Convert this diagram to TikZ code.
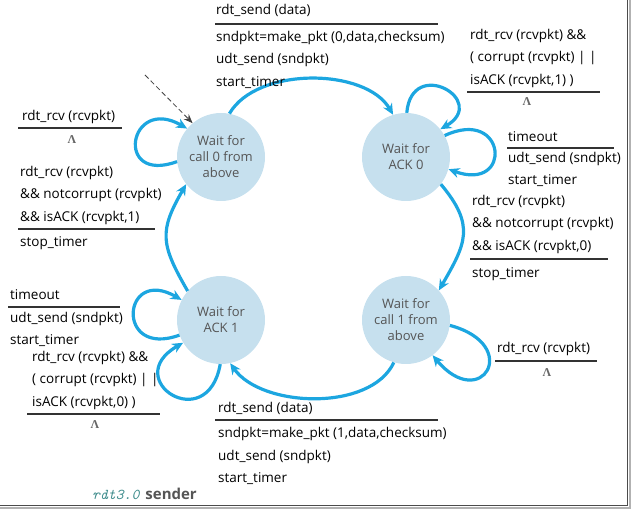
\documentclass[tikz,border=0pt]{standalone}
\usepackage{fontspec}
\setmainfont{Open Sans}
\newfontfamily\lamfont{Liberation Serif}
\usetikzlibrary{arrows.meta}
\definecolor{fsmblue}{HTML}{1CA6E0}
\definecolor{fsmfill}{HTML}{C6E0EE}
\definecolor{fsmtext}{HTML}{555555}
\definecolor{captteal}{HTML}{3E8C8C}
\newcommand{\lblfont}{\fontsize{13.5}{22.5}\selectfont}
\newcommand{\emptyact}{{\lamfont\bfseries Λ}}

\begin{document}
\begin{tikzpicture}[x=1pt, y=1pt,
      wait/.style={circle, fill=fsmfill, minimum size=88pt, inner sep=0pt, align=center,
                   text=fsmtext, font=\fontsize{13}{16}\selectfont},
      lbl/.style={anchor=base west, align=left, inner sep=0pt, font=\lblfont},
      nul/.style={inner sep=0pt, text=black!60, font=\fontsize{12}{12}\selectfont},
      rule/.style={line width=1.1pt, draw=black!80},
      arr/.style={-{Stealth[length=11pt,width=10pt]}, line width=3.2pt, draw=fsmblue}]
    \useasboundingbox (0,0) rectangle (631,511);
    % states
    \node[wait] (s0) at (221,354) {Wait for\\call 0 from\\above};
    \node[wait] (s1) at (406,354) {Wait for\\ACK 0};
    \node[wait] (s2) at (221,191) {Wait for\\ACK 1};
    \node[wait] (s3) at (406,191) {Wait for\\call 1 from\\above};
    % initial arrow
    \coordinate (init) at (145,436);
    \draw[dashed, dash pattern=on 5pt off 3pt, line width=0.8pt, draw=black!75,
          -{Stealth[length=9pt,width=7pt]}] (init) -- (s0.130);
    % transitions
    \draw[arr] (s0.79) to[out=60, in=120, looseness=0.85] (s1.107);
    \draw[arr] (s1.89) to[out=85, in=30, looseness=3.9] (s1.39);
    \draw[arr] (s1.29) to[out=25, in=-20, looseness=5.2] (s1.-16);
    \draw[arr] (s1.-38) to[out=-50, in=60, looseness=1.3] (s3.42);
    \draw[arr] (s3.-7) to[out=-15, in=-50, looseness=5.6] (s3.-53);
    \draw[arr] (s3.-106) to[out=-115, in=-55, looseness=0.85] (s2.-78);
    \draw[arr] (s2.200) to[out=200, in=150, looseness=5] (s2.153);
    \draw[arr] (s2.-91) to[out=-100, in=-150, looseness=4.4] (s2.-149);
    \draw[arr] (s2.139) to[out=120, in=-120, looseness=1.3] (s0.-142);
    \draw[arr] (s0.186) to[out=200, in=150, looseness=5] (s0.140);
    % labels: top (multi-line labels sit on their last baseline)
    \node[lbl] (snd0g) at (216,496.5) {rdt\_send (data)};
    \draw[rule] (215,487) -- (438,487);
    \node[lbl] (snd0a) at (216,424.5) {sndpkt=make\_pkt (0,data,checksum)\\udt\_send (sndpkt)\\start\_timer};
    % labels: wait for ACK 0
    \node[lbl] (ign0g) at (470,426.5) {rdt\_rcv (rcvpkt) \&\&\\( corrupt (rcvpkt) | |\\isACK (rcvpkt,1) )};
    \draw[rule] (467,419) -- (600,419);
    \node[nul] (ign0a) at (527,409) {\emptyact};
    \node[lbl] (tmo0g) at (508,369.5) {timeout};
    \draw[rule] (507,363) -- (614,363);
    \node[lbl] (tmo0a) at (508,326) {udt\_send (sndpkt)\\start\_timer};
    \node[lbl] (ack0g) at (472,260.5) {rdt\_rcv (rcvpkt)\\\&\& notcorrupt (rcvpkt)\\\&\& isACK (rcvpkt,0)};
    \draw[rule] (470,252) -- (608,252);
    \node[lbl] (ack0a) at (472,233.5) {stop\_timer};
    % labels: wait for call 0
    \node[lbl] (dup0g) at (22,390.5) {rdt\_rcv (rcvpkt)};
    \draw[rule] (18,383) -- (122,383);
    \node[nul] (dup0a) at (72,371) {\emptyact};
    \node[lbl] (ack1g) at (20,289.5) {rdt\_rcv (rcvpkt)\\\&\& notcorrupt (rcvpkt)\\\&\& isACK (rcvpkt,1)};
    \draw[rule] (18,282) -- (155,282);
    \node[lbl] (ack1a) at (20,264.5) {stop\_timer};
    % labels: wait for ACK 1
    \node[lbl] (tmo1g) at (10,211.5) {timeout};
    \draw[rule] (8,204) -- (120,204);
    \node[lbl] (tmo1a) at (10,166) {udt\_send (sndpkt)\\start\_timer};
    \node[lbl] (ign1g) at (32,104.5) {rdt\_rcv (rcvpkt) \&\&\\( corrupt (rcvpkt) | |\\isACK (rcvpkt,0) )};
    \draw[rule] (27,97) -- (160,97);
    \node[nul] (ign1a) at (95,86) {\emptyact};
    % labels: bottom and wait for call 1
    \node[lbl] (snd1g) at (218,98.5) {rdt\_send (data)};
    \draw[rule] (215,91) -- (438,91);
    \node[lbl] (snd1a) at (218,28.5) {sndpkt=make\_pkt (1,data,checksum)\\udt\_send (sndpkt)\\start\_timer};
    \node[lbl] (dup1g) at (497,158.5) {rdt\_rcv (rcvpkt)};
    \draw[rule] (495,150) -- (597,150);
    \node[nul] (dup1a) at (547,138) {\emptyact};
    % caption
    \node[anchor=base west, inner sep=0pt] (capt) at (92,11.5)
      {{\fontsize{15}{15}\selectfont\ttfamily\itshape\color{captteal}rdt3.0}\hspace{6pt}{\fontsize{15}{15}\selectfont\bfseries\color{fsmtext}sender}};
    % frame shadow
    \draw[line width=2pt, draw=black!30] (629.5,511) -- (629.5,3) -- (0,3);
    \draw[line width=1.5pt, draw=black!70] (627.5,511) -- (627.5,5.5) -- (0,5.5);
  \end{tikzpicture}
\end{document}
